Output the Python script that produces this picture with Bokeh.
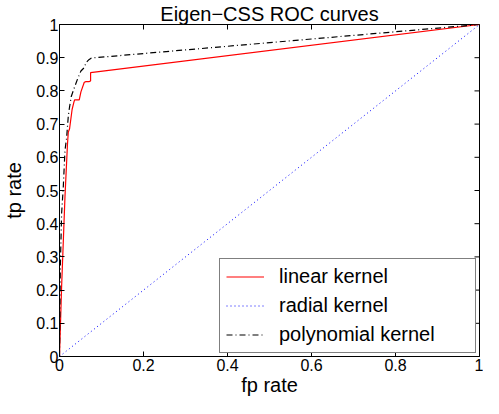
import math
from bokeh.plotting import figure
from bokeh.models import FixedTicker, Range1d
from bokeh.embed import file_html
from bokeh.resources import INLINE

# ---- data ----
fp_linear = [0, 0.005, 0.013, 0.019, 0.021, 0.024, 0.030, 0.034, 0.036, 0.047,
             0.051, 0.059, 0.063, 0.070, 0.074, 0.074, 1.0]
tp_linear = [0, 0.21, 0.48, 0.64, 0.676, 0.686, 0.744, 0.765, 0.773, 0.773,
             0.797, 0.826, 0.828, 0.828, 0.830, 0.855, 1.0]

fp_radial = [0, 1.0]
tp_radial = [0, 1.0]

fp_poly = [0, 0.002, 0.005, 0.009, 0.013, 0.017, 0.021, 0.023, 0.028, 0.036,
           0.043, 0.051, 0.059, 0.063, 0.070, 0.076, 1.0]
tp_poly = [0, 0.27, 0.43, 0.51, 0.62, 0.66, 0.725, 0.744, 0.783, 0.812,
           0.836, 0.860, 0.870, 0.885, 0.894, 0.899, 1.0]

x_ticks = [0, 0.2, 0.4, 0.6, 0.8, 1.0]
x_tick_labels = ["0", "0.2", "0.4", "0.6", "0.8", "1"]
y_ticks = [0, 0.1, 0.2, 0.3, 0.4, 0.5, 0.6, 0.7, 0.8, 0.9, 1.0]
y_tick_labels = ["0", "0.1", "0.2", "0.3", "0.4", "0.5", "0.6", "0.7", "0.8", "0.9", "1"]

title_text = "Eigen\u2212CSS ROC curves"
series_names = ["linear kernel", "radial kernel", "polynomial kernel"]

FONT = "Liberation Sans"

p = figure(width=483, height=398, output_backend="svg", toolbar_location=None,
           x_range=Range1d(0, 1), y_range=Range1d(0, 1),
           title=title_text, x_axis_label="fp rate", y_axis_label="tp rate",
           min_border_top=0, min_border_right=4, min_border_left=0, min_border_bottom=0)
p.background_fill_color = "white"
p.border_fill_color = "white"
p.outline_line_color = "black"
p.outline_line_width = 1
p.xgrid.visible = False
p.ygrid.visible = False

p.title.text_font = FONT
p.title.text_font_size = "20px"
p.title.text_font_style = "normal"
p.title.text_color = "black"
p.title.align = "center"
p.title.standoff = 0
p.title.offset = 0

def style_axis(ax, ticks, labels):
    ax.ticker = FixedTicker(ticks=ticks)
    ax.major_label_overrides = {t: l for t, l in zip(ticks, labels)}
    ax.major_tick_in = 5
    ax.major_tick_out = 0
    ax.minor_tick_in = 0
    ax.minor_tick_out = 0
    ax.axis_line_color = "black"
    ax.major_tick_line_color = "black"
    ax.major_label_text_font = FONT
    ax.major_label_text_color = "black"
    ax.major_label_text_font_size = "16px"
    ax.axis_label_text_font = FONT
    ax.axis_label_text_font_style = "normal"
    ax.axis_label_text_font_size = "20px"
    ax.axis_label_text_color = "black"

style_axis(p.xaxis[0], x_ticks, x_tick_labels)
style_axis(p.yaxis[0], y_ticks, y_tick_labels)
p.xaxis[0].major_label_standoff = 2
p.xaxis[0].axis_label_standoff = 0
p.yaxis[0].major_label_standoff = 1
p.yaxis[0].axis_label_standoff = 8

# inward ticks on the top and right edges (half of each dash is clipped by the frame)
p.scatter(x_ticks, [1.0] * len(x_ticks), marker="dash", size=10, angle=math.pi / 2,
          line_color="black", line_width=1)
p.scatter([1.0] * len(y_ticks), y_ticks, marker="dash", size=10,
          line_color="black", line_width=1)

p.line(fp_linear, tp_linear, line_color="#ff0000", line_width=1.2,
       legend_label=series_names[0])
p.line(fp_radial, tp_radial, line_color="#0000ff", line_width=1, line_dash="1 3",
       legend_label=series_names[1])
p.line(fp_poly, tp_poly, line_color="black", line_width=1.2, line_dash="6 3 1 3",
       legend_label=series_names[2])

lg = p.legend[0]
lg.location = "bottom_right"
lg.margin = 3
lg.padding = 6
lg.spacing = 6
lg.label_text_font = FONT
lg.label_text_font_size = "20px"
lg.label_text_color = "black"
lg.label_height = 21
lg.glyph_height = 21
lg.glyph_width = 38
lg.label_standoff = 15
lg.label_width = 190
lg.border_line_color = "black"
lg.border_line_width = 1
lg.background_fill_color = "white"
lg.background_fill_alpha = 1

open("out.html", "w").write(file_html(p, INLINE))
